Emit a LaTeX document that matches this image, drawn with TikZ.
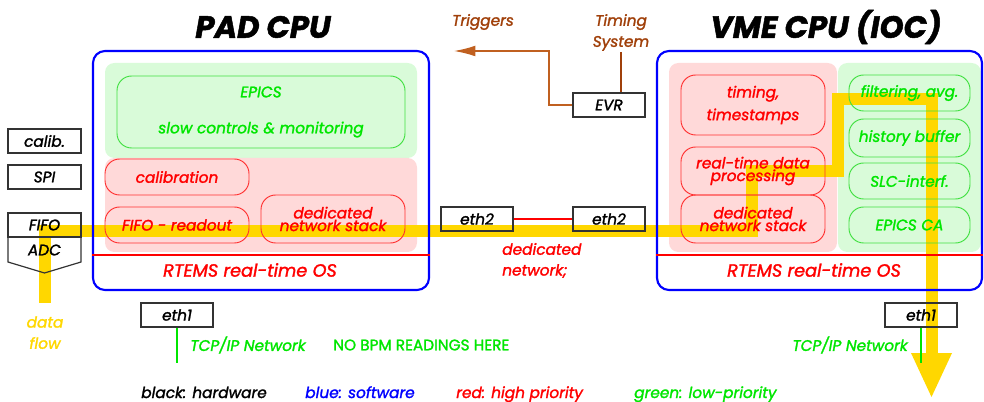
\documentclass[tikz,border=0pt]{standalone}
\usepackage{fontspec}
\setmainfont{Poppins}[FakeBold=1.6]
\usetikzlibrary{arrows.meta}
\definecolor{yel}{HTML}{FFD700}
\definecolor{pinkbg}{HTML}{FFD9D9}
\definecolor{greenbg}{HTML}{D9FBD9}
\definecolor{brn}{HTML}{A0400A}
\definecolor{brnline}{HTML}{C06020}
\definecolor{grn}{HTML}{00E600}
\definecolor{grnline}{HTML}{40E040}
\definecolor{redline}{HTML}{FF3030}
\tikzset{
  sz/.style 2 args={minimum width=#1*0.75pt, minimum height=#2*0.75pt},
  txt/.style={font=\itshape\fontsize{11.5}{14}\selectfont, inner sep=0},
  ttl/.style={font=\itshape\bfseries\fontsize{23}{28}\selectfont, inner sep=0},
  hwbox/.style={draw=black!80, line width=0.9pt, inner sep=0, txt},
  rbox/.style={draw=redline, line width=0.7pt, rounded corners=11pt, inner sep=0, txt, text=red, align=center},
  gbox/.style={draw=grnline, line width=0.7pt, rounded corners=11pt, inner sep=0, txt, text=grn, align=center},
  tight/.style={font=\itshape\fontsize{11.5}{9.5}\selectfont},
  bgred/.style={fill=pinkbg, rounded corners=7pt, inner sep=0},
  bggreen/.style={fill=greenbg, rounded corners=7pt, inner sep=0},
  cpubox/.style={draw=blue, line width=1.6pt, rounded corners=9pt, inner sep=0},
  flow/.style={draw=yel, line width=8.3pt},
}
\begin{document}
\begin{tikzpicture}[x=0.75pt,y=-0.75pt]
\useasboundingbox (0,0) rectangle (984,402);
% backgrounds
\node[bggreen, sz={312}{95}] (padg) at (261,110.5) {};
\node[bgred, sz={312}{94}] (padr) at (261,205) {};
\node[bgred, sz={168}{189}] (vmer) at (753,157.5) {};
\node[bggreen, sz={143}{189}] (vmeg) at (909.5,157.5) {};
% data flow
\coordinate (f0) at (45,303);
\coordinate (f1) at (45,231);
\coordinate (f2) at (752,231);
\coordinate (f3) at (752,171);
\coordinate (f4) at (838,171);
\coordinate (f5) at (838,99);
\coordinate (f6) at (932,99);
\coordinate (f7) at (932,354);
\draw[flow, line cap=butt, line join=miter] (f0) -- (f1) -- (f2) -- (f3) -- (f4) -- (f5) -- (f6) -- (f7);
\fill[yel] (911,353) -- (952,353) -- (931.5,397) -- cycle;
% CPU boxes
\node[cpubox, sz={336}{239}] (pad) at (261,170.5) {};
\node[cpubox, sz={325}{239}] (vme) at (819.5,170.5) {};
\node[ttl] (padt) at (263,27) {PAD CPU};
\node[ttl] (vmet) at (826,27) {VME CPU (IOC)};
% PAD contents
\node[gbox, sz={288}{72}] (epics) at (261,112) {EPICS\\[13pt]slow controls \& monitoring};
\node[rbox, sz={144}{36}] (calibr) at (177,177) {calibration};
\node[rbox, sz={144}{36}] (fifor) at (177,225) {FIFO - readout};
\node[rbox, sz={144}{48}, tight] (padnet) at (333,219) {dedicated\\network stack};
\draw[red, line width=1pt] (pad.west |- 0,255) -- (pad.east |- 0,255);
\node[txt, text=red, font=\itshape\fontsize{13.3}{16}\selectfont] (rtemsa) at (250,270) {RTEMS real-time OS};
% hardware
\node[hwbox, sz={73}{24}] (calib) at (44.5,141) {calib.};
\node[hwbox, sz={73}{24}] (spi) at (44.5,177) {SPI};
\node[hwbox, sz={73}{24}] (fifo) at (44.5,225) {FIFO};
\draw[black!80, line width=0.9pt] (8,237) -- (81,237) -- (81,262) -- (44.5,273) -- (8,262) -- cycle;
\node[txt] (adc) at (44.5,250) {ADC};
\node[txt, text=yel] (dataw) at (45,322) {data};
\node[txt, text=yel] (floww) at (45,343) {flow};
\node[hwbox, sz={72}{24}] (etha) at (177,315) {eth1};
\coordinate (ethaend) at (177,363);
\draw[grn, line width=1.2pt] (etha.south) -- (ethaend);
\node[txt, text=grn, anchor=west] (tcpa) at (190,345) {TCP/IP Network};
\node[txt, text=grn, anchor=west, font=\fontsize{11.5}{14}\selectfont] (nobpm) at (333,345) {NO BPM READINGS HERE};
% timing
\node[txt, text=brn] (trig) at (483,22) {Triggers};
\node[txt, text=brn, align=center, font=\itshape\fontsize{11.5}{15.75}\selectfont] (tsys) at (621,32.5) {Timing\\System};
\node[hwbox, sz={72}{24}] (evr) at (609,105) {EVR};
\coordinate (tsysend) at (621,52);
\draw[brn, line width=1pt] (tsysend) -- (evr.north -| tsysend);
\coordinate (trigtip) at (454,51);
\draw[brnline, line width=1pt, -{Latex[length=16pt,width=8pt]}] (evr.west) -- (549,105) -- (549,51) -- (trigtip);
% eth2
\node[hwbox, sz={72}{24}] (eth2a) at (477,219) {eth2};
\node[hwbox, sz={72}{24}] (eth2b) at (609,219) {eth2};
\draw[red, line width=1pt] (eth2a) -- (eth2b);
\node[txt, text=red, anchor=west] (dednet) at (502,249) {dedicated};
\node[txt, text=red, anchor=west] (dednetb) at (502,271) {network;};
% VME contents
\node[rbox, sz={144}{60}, font=\itshape\fontsize{11.5}{17}\selectfont] (timing) at (753,105) {timing,\\timestamps};
\node[rbox, sz={144}{48}, tight] (rtdp) at (753,171) {real-time data\\processing};
\node[rbox, sz={144}{48}, tight] (vmenet) at (753,219) {dedicated\\network stack};
\node[gbox, sz={121}{36}] (filt) at (909.5,93) {filtering, avg.};
\node[gbox, sz={121}{38}] (hist) at (909.5,138) {history buffer};
\node[gbox, sz={121}{36}] (slc) at (909.5,181) {SLC-interf.};
\node[gbox, sz={121}{36}] (epicsca) at (909.5,225) {EPICS CA};
\draw[red, line width=1pt] (vme.west |- 0,255) -- (vme.east |- 0,255);
\node[txt, text=red, font=\itshape\fontsize{13.3}{16}\selectfont] (rtemsb) at (814,270) {RTEMS real-time OS};
\node[hwbox, sz={72}{24}] (ethb) at (921,315) {eth1};
\coordinate (ethbend) at (921,363);
\draw[grn, line width=1.2pt] (ethb.south) -- (ethbend);
\node[txt, text=grn, anchor=east] (tcpb) at (908,345) {TCP/IP Network};
% legend
\node[txt, anchor=base west] (lgk) at (141,398) {black: hardware};
\node[txt, text=blue, anchor=base west] (lgb) at (305,398) {blue: software};
\node[txt, text=red, anchor=base west] (lgr) at (456,398) {red: high priority};
\node[txt, text=grn, anchor=base west] (lgg) at (634,398) {green: low-priority};
\end{tikzpicture}
\end{document}
